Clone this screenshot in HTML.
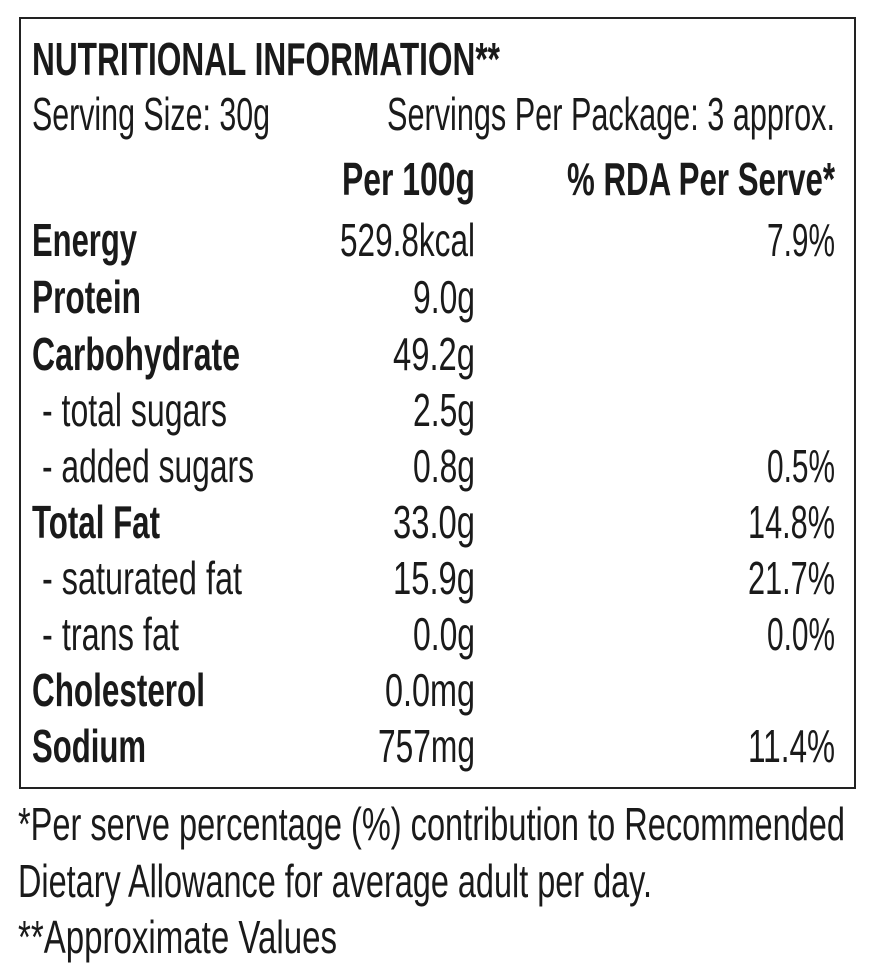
<!DOCTYPE html>
<html><head><meta charset="utf-8"><style>
html,body{margin:0;padding:0;background:#fff;}
svg{display:block}
text{font-family:"Liberation Sans",sans-serif;fill:#1a1a1a;}
.b{font-weight:bold}
</style></head><body>
<svg width="887" height="978" viewBox="0 0 887 978" xmlns="http://www.w3.org/2000/svg">
<rect x="20" y="18" width="835" height="770" fill="none" stroke="#222" stroke-width="2"/>
<g font-size="46" lengthAdjust="spacingAndGlyphs">
<text class="b" x="32" y="75" textLength="468" lengthAdjust="spacingAndGlyphs">NUTRITIONAL INFORMATION**</text>
<text x="32" y="130" textLength="238" lengthAdjust="spacingAndGlyphs">Serving Size: 30g</text>
<text x="387" y="130" textLength="448" lengthAdjust="spacingAndGlyphs">Servings Per Package: 3 approx.</text>
<text class="b" x="342" y="195" textLength="133" lengthAdjust="spacingAndGlyphs">Per 100g</text>
<text class="b" x="567" y="195" textLength="268" lengthAdjust="spacingAndGlyphs">% RDA Per Serve*</text>

<text class="b" x="32" y="256" textLength="105" lengthAdjust="spacingAndGlyphs">Energy</text>
<text class="b" x="32" y="313" textLength="109" lengthAdjust="spacingAndGlyphs">Protein</text>
<text class="b" x="32" y="370" textLength="208" lengthAdjust="spacingAndGlyphs">Carbohydrate</text>
<text x="42" y="426" textLength="185" lengthAdjust="spacingAndGlyphs">- total sugars</text>
<text x="42" y="482" textLength="212" lengthAdjust="spacingAndGlyphs">- added sugars</text>
<text class="b" x="32" y="538" textLength="128" lengthAdjust="spacingAndGlyphs">Total Fat</text>
<text x="42" y="594" textLength="200" lengthAdjust="spacingAndGlyphs">- saturated fat</text>
<text x="42" y="650" textLength="137" lengthAdjust="spacingAndGlyphs">- trans fat</text>
<text class="b" x="32" y="706" textLength="173" lengthAdjust="spacingAndGlyphs">Cholesterol</text>
<text class="b" x="32" y="762" textLength="114" lengthAdjust="spacingAndGlyphs">Sodium</text>

<text x="340" y="256" textLength="135" lengthAdjust="spacingAndGlyphs">529.8kcal</text>
<text x="413" y="313" textLength="62" lengthAdjust="spacingAndGlyphs">9.0g</text>
<text x="393" y="370" textLength="82" lengthAdjust="spacingAndGlyphs">49.2g</text>
<text x="413" y="426" textLength="62" lengthAdjust="spacingAndGlyphs">2.5g</text>
<text x="413" y="482" textLength="62" lengthAdjust="spacingAndGlyphs">0.8g</text>
<text x="393" y="538" textLength="82" lengthAdjust="spacingAndGlyphs">33.0g</text>
<text x="393" y="594" textLength="82" lengthAdjust="spacingAndGlyphs">15.9g</text>
<text x="413" y="650" textLength="62" lengthAdjust="spacingAndGlyphs">0.0g</text>
<text x="385" y="706" textLength="90" lengthAdjust="spacingAndGlyphs">0.0mg</text>
<text x="378" y="762" textLength="97" lengthAdjust="spacingAndGlyphs">757mg</text>

<text x="767" y="256" textLength="68" lengthAdjust="spacingAndGlyphs">7.9%</text>
<text x="767" y="482" textLength="68" lengthAdjust="spacingAndGlyphs">0.5%</text>
<text x="748" y="538" textLength="87" lengthAdjust="spacingAndGlyphs">14.8%</text>
<text x="748" y="594" textLength="87" lengthAdjust="spacingAndGlyphs">21.7%</text>
<text x="767" y="650" textLength="68" lengthAdjust="spacingAndGlyphs">0.0%</text>
<text x="748" y="762" textLength="87" lengthAdjust="spacingAndGlyphs">11.4%</text>

<text x="18" y="840" textLength="827" lengthAdjust="spacingAndGlyphs">*Per serve percentage (%) contribution to Recommended</text>
<text x="18" y="897" textLength="634" lengthAdjust="spacingAndGlyphs">Dietary Allowance for average adult per day.</text>
<text x="18" y="953" textLength="319" lengthAdjust="spacingAndGlyphs">**Approximate Values</text>
</g>
</svg>
</body></html>
